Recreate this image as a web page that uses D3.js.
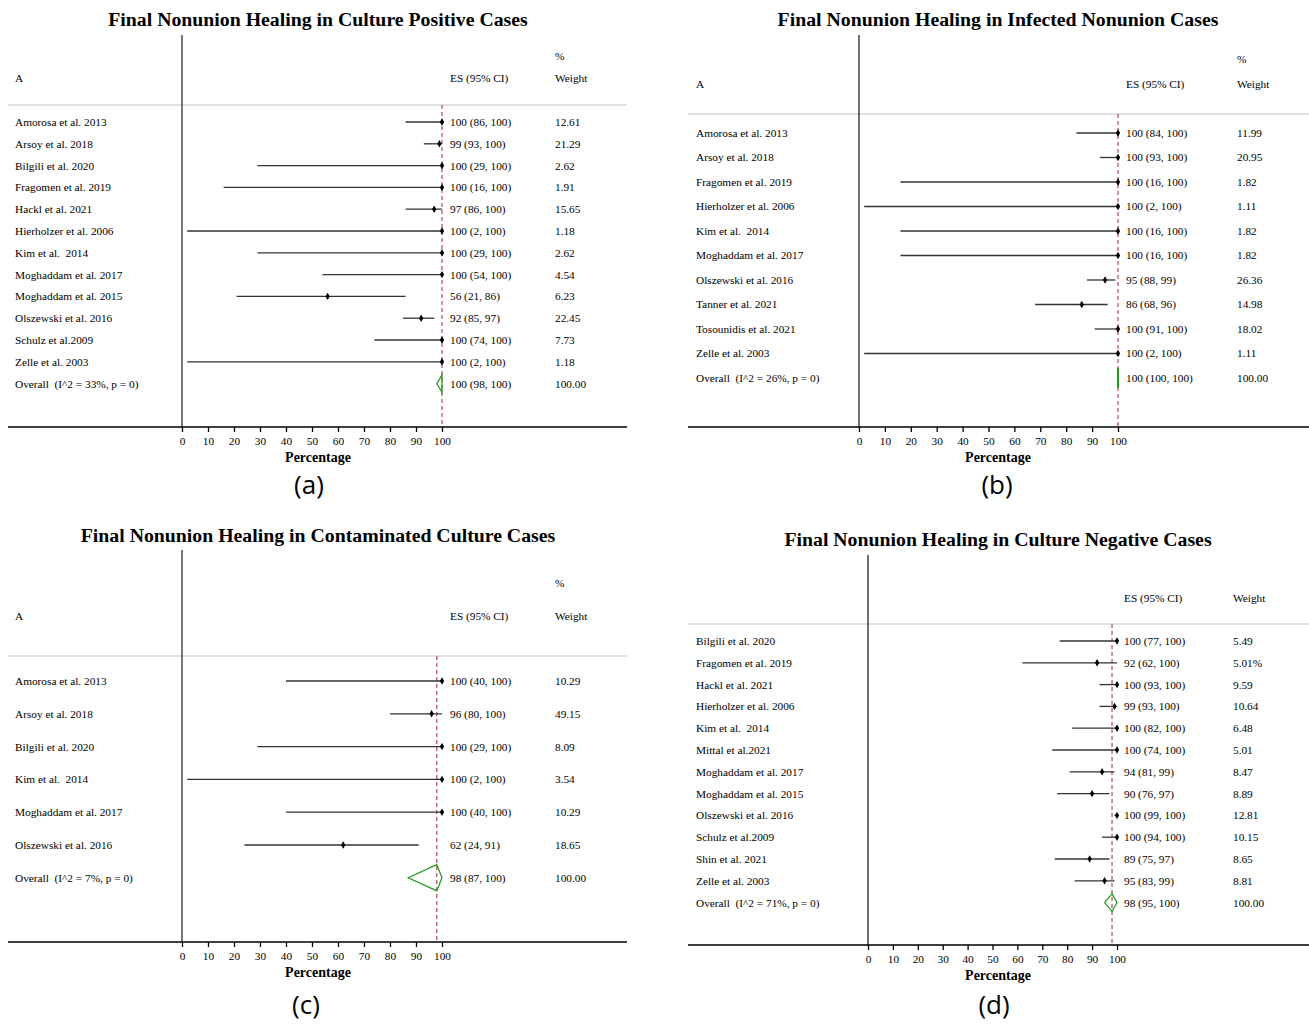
<!DOCTYPE html>
<html>
<head>
<meta charset="utf-8">
<script src="https://cdn.jsdelivr.net/npm/d3@7"></script>
<style>
  body { margin: 0; background: #fff; }
  svg { display: block; }
  svg text { white-space: pre; }
</style>
</head>
<body>
<svg id="fig" width="1309" height="1024"></svg>
<script>
// ---------- data ----------
const tickValues = [0, 10, 20, 30, 40, 50, 60, 70, 80, 90, 100];

// (a) culture positive cases
const titleA = "Final Nonunion Healing in Culture Positive Cases";
const studiesA = ["Amorosa et al. 2013", "Arsoy et al. 2018", "Bilgili et al. 2020", "Fragomen et al. 2019",
  "Hackl et al. 2021", "Hierholzer et al. 2006", "Kim et al.  2014", "Moghaddam et al. 2017",
  "Moghaddam et al. 2015", "Olszewski et al. 2016", "Schulz et al.2009", "Zelle et al. 2003"];
const esA = [100, 99, 100, 100, 97, 100, 100, 100, 56, 92, 100, 100];
const lowA = [86, 93, 29, 16, 86, 2, 29, 54, 21, 85, 74, 2];
const highA = [100, 100, 100, 100, 100, 100, 100, 100, 86, 97, 100, 100];
const weightA = ["12.61", "21.29", "2.62", "1.91", "15.65", "1.18", "2.62", "4.54", "6.23", "22.45", "7.73", "1.18"];
const overallLabelA = "Overall  (I^2 = 33%, p = 0)";
const overallA = [100, 98, 100]; // es, low, high

// (b) infected nonunion cases
const titleB = "Final Nonunion Healing in Infected Nonunion Cases";
const studiesB = ["Amorosa et al. 2013", "Arsoy et al. 2018", "Fragomen et al. 2019", "Hierholzer et al. 2006",
  "Kim et al.  2014", "Moghaddam et al. 2017", "Olszewski et al. 2016", "Tanner et al. 2021",
  "Tosounidis et al. 2021", "Zelle et al. 2003"];
const esB = [100, 100, 100, 100, 100, 100, 95, 86, 100, 100];
const lowB = [84, 93, 16, 2, 16, 16, 88, 68, 91, 2];
const highB = [100, 100, 100, 100, 100, 100, 99, 96, 100, 100];
const weightB = ["11.99", "20.95", "1.82", "1.11", "1.82", "1.82", "26.36", "14.98", "18.02", "1.11"];
const overallLabelB = "Overall  (I^2 = 26%, p = 0)";
const overallB = [100, 100, 100];

// (c) contaminated culture cases
const titleC = "Final Nonunion Healing in Contaminated Culture Cases";
const studiesC = ["Amorosa et al. 2013", "Arsoy et al. 2018", "Bilgili et al. 2020", "Kim et al.  2014",
  "Moghaddam et al. 2017", "Olszewski et al. 2016"];
const esC = [100, 96, 100, 100, 100, 62];
const lowC = [40, 80, 29, 2, 40, 24];
const highC = [100, 100, 100, 100, 100, 91];
const weightC = ["10.29", "49.15", "8.09", "3.54", "10.29", "18.65"];
const overallLabelC = "Overall  (I^2 = 7%, p = 0)";
const overallC = [98, 87, 100];

// (d) culture negative cases
const titleD = "Final Nonunion Healing in Culture Negative Cases";
const studiesD = ["Bilgili et al. 2020", "Fragomen et al. 2019", "Hackl et al. 2021", "Hierholzer et al. 2006",
  "Kim et al.  2014", "Mittal et al.2021", "Moghaddam et al. 2017", "Moghaddam et al. 2015",
  "Olszewski et al. 2016", "Schulz et al.2009", "Shin et al. 2021", "Zelle et al. 2003"];
const esD = [100, 92, 100, 99, 100, 100, 94, 90, 100, 100, 89, 95];
const lowD = [77, 62, 93, 93, 82, 74, 81, 76, 99, 94, 75, 83];
const highD = [100, 100, 100, 100, 100, 100, 99, 97, 100, 100, 97, 99];
const weightD = ["5.49", "5.01%", "9.59", "10.64", "6.48", "5.01", "8.47", "8.89", "12.81", "10.15", "8.65", "8.81"];
const overallLabelD = "Overall  (I^2 = 71%, p = 0)";
const overallD = [98, 95, 100];

// ---------- layout ----------
const panels = [
  { tag: "(a)", title: titleA, studies: studiesA, es: esA, low: lowA, high: highA, weight: weightA,
    overallLabel: overallLabelA, overall: overallA,
    x0: 182, x100: 442, left: 8, right: 627, cx: 318, titleY: 19, topY: 35, headY: 105,
    hdrY: 78, pctY: 56, firstRow: 122, step: 21.8, axisY: 427, labelX: 15, esX: 450, wX: 555,
    showA: true, showPct: true, tagX: 309, tagY: 485, nullColor: "#555", nullWidth: 1.6 },
  { tag: "(b)", title: titleB, studies: studiesB, es: esB, low: lowB, high: highB, weight: weightB,
    overallLabel: overallLabelB, overall: overallB,
    x0: 859, x100: 1118, left: 688, right: 1309, cx: 998, titleY: 19, topY: 35, headY: 114,
    hdrY: 84, pctY: 59, firstRow: 133, step: 24.5, axisY: 427, labelX: 696, esX: 1126, wX: 1237,
    showA: true, showPct: true, tagX: 997, tagY: 485, nullColor: "#111", nullWidth: 1.2 },
  { tag: "(c)", title: titleC, studies: studiesC, es: esC, low: lowC, high: highC, weight: weightC,
    overallLabel: overallLabelC, overall: overallC,
    x0: 182, x100: 442, left: 8, right: 627, cx: 318, titleY: 535, topY: 550, headY: 656,
    hdrY: 616, pctY: 583, firstRow: 681, step: 32.8, axisY: 942, labelX: 15, esX: 450, wX: 555,
    showA: true, showPct: true, tagX: 306, tagY: 1005, nullColor: "#555", nullWidth: 1.6 },
  { tag: "(d)", title: titleD, studies: studiesD, es: esD, low: lowD, high: highD, weight: weightD,
    overallLabel: overallLabelD, overall: overallD,
    x0: 868, x100: 1117, left: 688, right: 1309, cx: 998, titleY: 539, topY: 555, headY: 624,
    hdrY: 598, pctY: null, firstRow: 641, step: 21.8, axisY: 945, labelX: 696, esX: 1124, wX: 1233,
    showA: false, showPct: false, tagX: 994, tagY: 1005, nullColor: "#111", nullWidth: 1.2 }
];

const SERIF = "'Liberation Serif', 'Times New Roman', serif";
const FS = 11.3;
const svg = d3.select("#fig");
svg.append("rect").attr("width", 1309).attr("height", 1024).attr("fill", "#fff");

function drawPanel(p) {
  const g = svg.append("g");
  const x = d3.scaleLinear().domain([0, 100]).range([p.x0, p.x100]);
  const n = p.studies.length;
  const y = d3.scaleLinear().domain([0, n]).range([p.firstRow, p.firstRow + p.step * n]);
  const rows = p.studies.map((s, i) => ({ label: s, es: p.es[i], lo: p.low[i], hi: p.high[i], w: p.weight[i], i }));
  const [oEs, oLo, oHi] = p.overall;

  const txt = (sel) => sel.attr("font-family", SERIF).attr("fill", "#000").attr("dy", "0.35em");

  // title
  txt(g.append("text")).attr("x", p.cx).attr("y", p.titleY).attr("text-anchor", "middle")
    .attr("font-size", 19.8).attr("font-weight", "bold").text(p.title);

  // header row
  if (p.showA) txt(g.append("text")).attr("x", p.labelX).attr("y", p.hdrY).attr("font-size", FS).text("A");
  txt(g.append("text")).attr("x", p.esX).attr("y", p.hdrY).attr("font-size", FS).text("ES (95% CI)");
  if (p.showPct) txt(g.append("text")).attr("x", p.wX).attr("y", p.pctY).attr("font-size", FS).text("%");
  txt(g.append("text")).attr("x", p.wX).attr("y", p.hdrY).attr("font-size", FS).text("Weight");

  // header separator
  g.append("line").attr("x1", p.left).attr("x2", p.right).attr("y1", p.headY).attr("y2", p.headY)
    .attr("stroke", "#c4c4c4").attr("stroke-width", 1.2);

  // null line at 0
  g.append("line").attr("x1", x(0)).attr("x2", x(0)).attr("y1", p.topY).attr("y2", p.axisY)
    .attr("stroke", p.nullColor).attr("stroke-width", p.nullWidth);

  // overall estimate reference line
  g.append("line").attr("x1", x(oEs)).attr("x2", x(oEs)).attr("y1", p.headY).attr("y2", p.axisY)
    .attr("stroke", "#a83a44").attr("stroke-width", 1.1).attr("stroke-dasharray", "4,3");

  // study rows
  const r = g.selectAll("g.row").data(rows).join("g").attr("class", "row");
  txt(r.append("text")).attr("x", p.labelX).attr("y", d => y(d.i)).attr("font-size", FS).text(d => d.label);
  r.append("line").attr("x1", d => x(d.lo)).attr("x2", d => x(d.hi))
    .attr("y1", d => y(d.i)).attr("y2", d => y(d.i)).attr("stroke", "#333").attr("stroke-width", 1.3);
  r.append("path").attr("d", d3.symbol(d3.symbolDiamond, 16))
    .attr("transform", d => `translate(${x(d.es)},${y(d.i)})`).attr("fill", "#000");
  txt(r.append("text")).attr("x", p.esX).attr("y", d => y(d.i)).attr("font-size", FS)
    .text(d => `${d.es} (${d.lo}, ${d.hi})`);
  txt(r.append("text")).attr("x", p.wX).attr("y", d => y(d.i)).attr("font-size", FS).text(d => d.w);

  // overall row
  const yo = y(n);
  const h = p.step * 0.4;
  txt(g.append("text")).attr("x", p.labelX).attr("y", yo).attr("font-size", FS).text(p.overallLabel);
  g.append("path")
    .attr("d", d3.line()([[x(oLo), yo], [x(oEs), yo - h], [x(oHi), yo], [x(oEs), yo + h]]) + "Z")
    .attr("fill", "none").attr("stroke", "#1e9a1e").attr("stroke-width", oLo === oHi ? 2 : 1.2);
  txt(g.append("text")).attr("x", p.esX).attr("y", yo).attr("font-size", FS)
    .text(`${oEs} (${oLo}, ${oHi})`);
  txt(g.append("text")).attr("x", p.wX).attr("y", yo).attr("font-size", FS).text("100.00");

  // x axis
  g.append("line").attr("x1", p.left).attr("x2", p.right).attr("y1", p.axisY).attr("y2", p.axisY)
    .attr("stroke", "#000").attr("stroke-width", 1.4);
  const ax = g.append("g").attr("transform", `translate(0,${p.axisY})`)
    .call(d3.axisBottom(x).tickValues(tickValues).tickSize(5).tickPadding(5).tickSizeOuter(0));
  ax.select(".domain").remove();
  ax.selectAll(".tick line").attr("stroke", "#000").attr("stroke-width", 1.3);
  ax.selectAll(".tick text").attr("font-family", SERIF).attr("font-size", FS).attr("fill", "#000");

  txt(g.append("text")).attr("x", p.cx).attr("y", p.axisY + 30).attr("text-anchor", "middle")
    .attr("font-size", 14).attr("font-weight", "bold").text("Percentage");

  // panel tag
  g.append("text").attr("x", p.tagX).attr("y", p.tagY).attr("dy", "0.35em").attr("text-anchor", "middle")
    .attr("font-family", "'Open Sans', 'DejaVu Sans', sans-serif").attr("font-size", 26)
    .attr("fill", "#000").text(p.tag);
}

panels.forEach(drawPanel);
</script>
</body>
</html>
